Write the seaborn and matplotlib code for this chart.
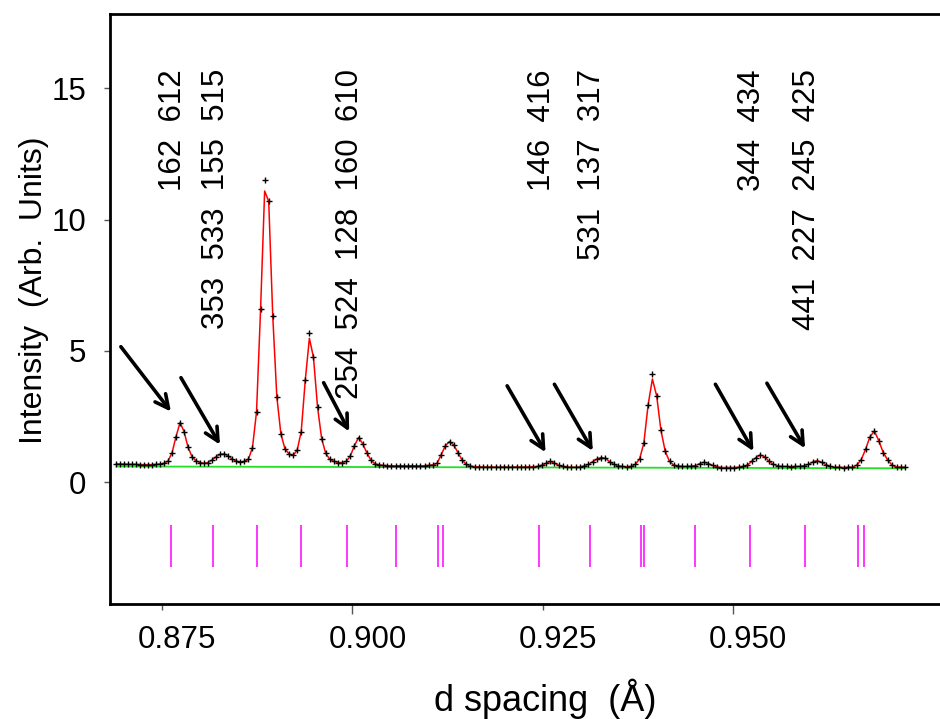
import numpy as np
import pandas as pd
import matplotlib
matplotlib.use("Agg")
import matplotlib.pyplot as plt
import matplotlib.transforms as mtransforms
import seaborn as sns
from matplotlib.ticker import FixedLocator, FixedFormatter

# ---------------- data ----------------
D_FIRST, D_LAST = 0.86896, 0.97267          # first / last sampled d-spacing

OBS = [
    0.70, 0.69, 0.69, 0.68, 0.68, 0.68, 0.67, 0.67, 0.67, 0.67,
    0.68, 0.69, 0.72, 0.81, 1.12, 1.74, 2.27, 1.93, 1.33, 0.97,
    0.81, 0.75, 0.72, 0.75, 0.85, 0.97, 1.06, 1.08, 1.00, 0.88,
    0.80, 0.77, 0.79, 0.88, 1.32, 2.69, 6.60, 11.51, 10.70, 6.33,
    3.26, 1.84, 1.27, 1.08, 1.02, 1.22, 1.93, 3.90, 5.70, 4.76,
    2.86, 1.66, 1.10, 0.87, 0.79, 0.75, 0.75, 0.79, 1.00, 1.39,
    1.70, 1.47, 1.13, 0.84, 0.70, 0.66, 0.64, 0.63, 0.63, 0.62,
    0.63, 0.62, 0.62, 0.63, 0.62, 0.62, 0.63, 0.64, 0.66, 0.72,
    1.05, 1.39, 1.55, 1.42, 1.13, 0.85, 0.68, 0.62, 0.59, 0.58,
    0.58, 0.57, 0.58, 0.57, 0.57, 0.58, 0.57, 0.57, 0.58, 0.57,
    0.58, 0.58, 0.59, 0.60, 0.65, 0.72, 0.79, 0.73, 0.64, 0.60,
    0.58, 0.57, 0.57, 0.58, 0.62, 0.68, 0.78, 0.88, 0.94, 0.91,
    0.78, 0.68, 0.62, 0.60, 0.59, 0.60, 0.68, 0.88, 1.48, 2.94,
    4.12, 3.29, 1.97, 1.17, 0.79, 0.65, 0.62, 0.60, 0.60, 0.61,
    0.63, 0.71, 0.76, 0.71, 0.64, 0.58, 0.56, 0.56, 0.56, 0.56,
    0.57, 0.60, 0.65, 0.79, 0.94, 1.04, 0.97, 0.79, 0.68, 0.62,
    0.60, 0.60, 0.59, 0.60, 0.60, 0.63, 0.68, 0.77, 0.82, 0.76,
    0.67, 0.60, 0.57, 0.57, 0.56, 0.57, 0.57, 0.65, 0.85, 1.25,
    1.73, 1.95, 1.58, 1.13, 0.85, 0.65, 0.58, 0.57, 0.57,
]
CALC_OVERRIDES = {37: 11.09, 48: 5.48, 130: 3.93}   # fitted curve where it departs from obs

BG_D = [0.86896, 0.97267]
BG_I = [0.60, 0.53]

REFL_D = [0.87618, 0.88170, 0.88745, 0.89327, 0.89928, 0.90572, 0.91128,
          0.91186, 0.92447, 0.93126, 0.93788, 0.93828, 0.94506, 0.95229,
          0.95948, 0.96648, 0.96723]
REFL_LOW, REFL_HIGH = -3.24, -1.63

LABEL_D = [0.87645, 0.88210, 0.89971, 0.92487, 0.93152, 0.95255, 0.95978]
LABEL_TEXT = ["162  612", "353  533  155  515", "254  524  128  160  610",
              "146  416", "531  137  317", "344  434", "441  227  245  425"]
LABEL_TOP = 15.73

ARROW_TAIL = [(0.86956, 5.16), (0.87746, 3.98), (0.89621, 3.79), (0.92033, 3.67),
              (0.92654, 3.73), (0.94770, 3.73), (0.95447, 3.77)]
ARROW_HEAD = [(0.87614, 2.69), (0.88259, 1.43), (0.89957, 1.93), (0.92538, 1.14),
              (0.93159, 1.19), (0.95270, 1.18), (0.95949, 1.29)]

X_MAJOR = [0.900, 0.950]
X_MAJOR_LABELS = ["0.900", "0.950"]
X_MINOR = [0.875, 0.925]
X_MINOR_LABELS = ["0.875", "0.925"]
Y_TICKS = [0, 5, 10, 15]
XLIM = (0.86813, 0.97722)
YLIM = (-4.65, 17.83)

# ---------------- build frame ----------------
d = np.geomspace(D_FIRST, D_LAST, len(OBS))
calc = list(OBS)
for k, v in CALC_OVERRIDES.items():
    calc[k] = v
df = pd.DataFrame({"d": d, "obs": OBS, "calc": calc})
bg = pd.DataFrame({"d": BG_D, "I": BG_I})

sns.set_theme(style="white")
plt.rcParams["font.family"] = ["Liberation Sans", "DejaVu Sans"]
plt.rcParams["text.color"] = "black"
plt.rcParams["axes.labelcolor"] = "black"
plt.rcParams["xtick.color"] = "black"
plt.rcParams["ytick.color"] = "black"

fig = plt.figure(figsize=(9.4, 7.19), dpi=100)
ax = fig.add_axes([0.117, 0.1595, 0.883, 0.821])

sns.lineplot(data=bg, x="d", y="I", color="#22e022", lw=1.3, ax=ax, zorder=1)
sns.lineplot(data=df, x="d", y="calc", color="#ff0000", lw=1.1, ax=ax, zorder=2)
sns.scatterplot(data=df, x="d", y="obs", marker="+", color="black", s=16,
                linewidth=1.0, ax=ax, zorder=3)

ax.vlines(REFL_D, REFL_LOW, REFL_HIGH, color="#ff00ff", lw=1.1)

for xd, txt in zip(LABEL_D, LABEL_TEXT):
    ax.text(xd, LABEL_TOP, txt, rotation=90, ha="center", va="top",
            fontsize=22.5, color="black")

for (tx, ty), (hx, hy) in zip(ARROW_TAIL, ARROW_HEAD):
    ax.annotate("", xy=(hx, hy), xytext=(tx, ty),
                arrowprops=dict(arrowstyle="->", lw=2.6, color="black",
                                mutation_scale=24, shrinkA=0, shrinkB=0))

ax.set_xlim(*XLIM)
ax.set_ylim(*YLIM)

ax.xaxis.set_major_locator(FixedLocator(X_MAJOR))
ax.xaxis.set_major_formatter(FixedFormatter(X_MAJOR_LABELS))
ax.xaxis.set_minor_locator(FixedLocator(X_MINOR))
ax.xaxis.set_minor_formatter(FixedFormatter(X_MINOR_LABELS))
ax.set_yticks(Y_TICKS)
ax.set_yticklabels([str(v) for v in Y_TICKS])

ax.tick_params(axis="x", which="major", bottom=True, length=7, width=1,
               color="#555555", labelsize=22.5, pad=8, labelcolor="black")
ax.tick_params(axis="x", which="minor", bottom=True, length=4, width=1,
               color="#555555", labelsize=22.5, pad=11, labelcolor="black")
ax.tick_params(axis="y", which="major", left=True, length=4, width=1,
               color="#555555", labelsize=22.5, pad=13, labelcolor="black")

# x tick labels sit a little to the right of their ticks in the reference
shift = mtransforms.ScaledTranslation(0.15, 0, fig.dpi_scale_trans)
for lab in ax.xaxis.get_majorticklabels() + ax.xaxis.get_minorticklabels():
    lab.set_transform(lab.get_transform() + shift)

for side in ["left", "bottom", "top"]:
    ax.spines[side].set_color("black")
    ax.spines[side].set_linewidth(2.0)
ax.spines["right"].set_visible(False)

ax.set_xlabel("d spacing  (Å)", fontsize=26, color="black")
ax.set_ylabel("Intensity  (Arb.  Units)", fontsize=23, color="black")
ax.xaxis.set_label_coords(0.525, -0.125)
ax.yaxis.set_label_coords(-0.073, 0.532)

fig.savefig("out.png", dpi=100)
